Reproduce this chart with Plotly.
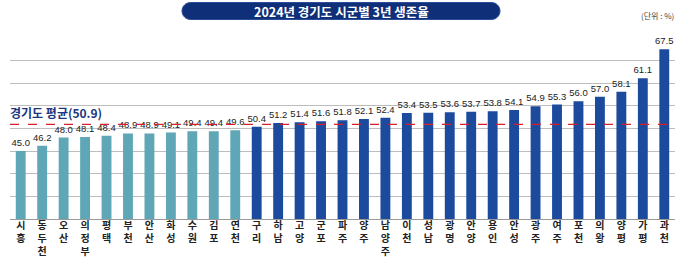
import plotly.graph_objects as go

regions = ["시흥", "동두천", "오산", "의정부", "평택", "부천", "안산", "화성", "수원", "김포", "연천",
           "구리", "하남", "고양", "군포", "파주", "양주", "남양주", "이천", "성남", "광명", "안양",
           "용인", "안성", "광주", "여주", "포천", "의왕", "양평", "가평", "과천"]
rates = [45.0, 46.2, 48.0, 48.1, 48.4, 48.9, 48.9, 49.1, 49.4, 49.4, 49.6,
         50.4, 51.2, 51.4, 51.6, 51.8, 52.1, 52.4, 53.4, 53.5, 53.6, 53.7,
         53.8, 54.1, 54.9, 55.3, 56.0, 57.0, 58.1, 61.1, 67.5]
group = ["low"] * 11 + ["high"] * 20
avg_value = 50.9
title_text = "2024년 경기도 시군별 3년 생존율"
unit_text = "(단위 : %)"
avg_label = "경기도 평균(50.9)"

W, H = 692, 259
L, R, T, B = 10, 17, 38, 40
PW, PH = W - L - R, H - T - B

def px(x):
    return (x - L) / PW

def py(y):
    return (H - B - y) / PH

palette = {"low": "#5fa6b6", "high": "#1c4a9c"}
colors = [palette[g] for g in group]
ticktext = ["<br>".join(list(n)) for n in regions]

KR = "Noto Sans CJK KR"
NUM = "Liberation Sans, Arial, sans-serif"

fig = go.Figure()
fig.add_trace(go.Bar(
    x=regions, y=rates, marker=dict(color=colors, line=dict(width=0)),
    width=0.46,
    text=[f"{v:.1f}" for v in rates], textposition="outside",
    constraintext="none",
    textfont=dict(family=NUM, size=9.5, color="#222222"),
    cliponaxis=False, hoverinfo="skip",
))

# pill title shape
x0, x1, y0, y1 = 182, 500, 2.5, 19.5
r = (y1 - y0) / 2
k = 0.5523 * r
path = (f"M {px(x0 + r)},{py(y0)} L {px(x1 - r)},{py(y0)} "
        f"C {px(x1 - r + k)},{py(y0)} {px(x1)},{py(y0 + r - k)} {px(x1)},{py(y0 + r)} "
        f"C {px(x1)},{py(y0 + r + k)} {px(x1 - r + k)},{py(y1)} {px(x1 - r)},{py(y1)} "
        f"L {px(x0 + r)},{py(y1)} "
        f"C {px(x0 + r - k)},{py(y1)} {px(x0)},{py(y0 + r + k)} {px(x0)},{py(y0 + r)} "
        f"C {px(x0)},{py(y0 + r - k)} {px(x0 + r - k)},{py(y0)} {px(x0 + r)},{py(y0)} Z")

fig.update_layout(
    width=W, height=H, margin=dict(l=L, r=R, t=T, b=B, autoexpand=False),
    paper_bgcolor="white", plot_bgcolor="white", showlegend=False,
    xaxis=dict(
        tickmode="array", tickvals=regions, ticktext=ticktext,
        tickfont=dict(family=KR, size=10, weight="bold", color="#222222"),
        ticklabelstandoff=-3, automargin=False,
        showline=True, linecolor="#9a9a9a", linewidth=1,
        ticks="", showgrid=False, range=[-0.5, len(regions) - 0.5],
    ),
    yaxis=dict(
        range=[30, 70], dtick=5, tick0=30, showticklabels=False, automargin=False,
        showgrid=True, gridcolor="#bdbdbd", gridwidth=1, zeroline=False,
    ),
    shapes=[
        dict(type="line", xref="paper", x0=0, x1=1, yref="y", y0=avg_value, y1=avg_value,
             line=dict(color="#d8202c", width=1.2, dash="dash"), layer="above"),
        dict(type="path", xref="paper", yref="paper", path=path,
             fillcolor="#0f2f78", line=dict(color="#2a4d9a", width=1), layer="above"),
    ],
    annotations=[
        dict(text=f"<b>{title_text}</b>", xref="paper", yref="paper", x=px(341), y=py(11.5),
             showarrow=False, xanchor="center", yanchor="middle",
             font=dict(family=KR, size=12.5, color="white")),
        dict(text=unit_text, xref="paper", yref="paper", x=px(676), y=py(15),
             showarrow=False, xanchor="right", yanchor="middle",
             font=dict(family=KR, size=8, color="#444444")),
        dict(text=f"<b>{avg_label}</b>", xref="paper", yref="y", x=0, y=avg_value,
             showarrow=False, xanchor="left", yanchor="bottom", yshift=1, xshift=-2,
             font=dict(family=KR, size=12, color="#1a3780")),
    ],
)

fig.write_html("out.html")
